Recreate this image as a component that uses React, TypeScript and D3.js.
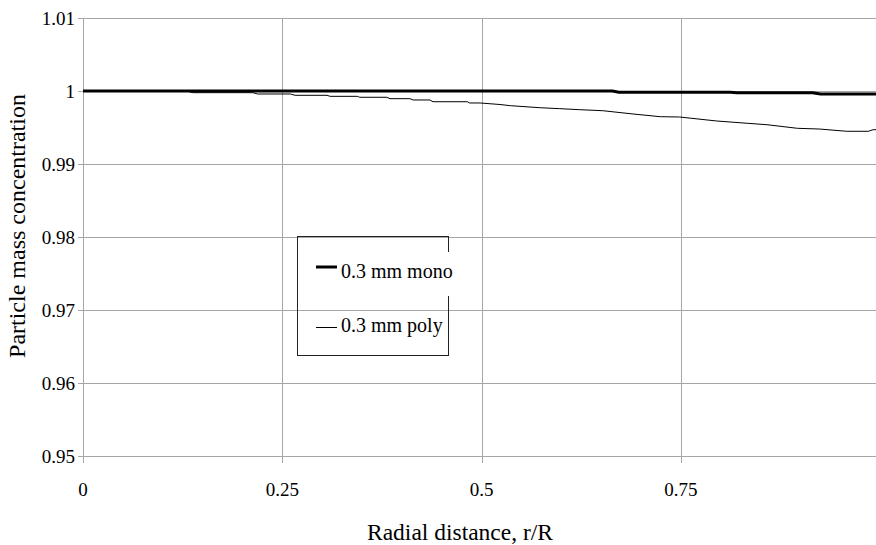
import React from "react";
import * as d3 from "d3";

const xTicks = [0, 0.25, 0.5, 0.75];
const xTickLabels = ["0", "0.25", "0.5", "0.75"];
const yTicks = [0.95, 0.96, 0.97, 0.98, 0.99, 1.0, 1.01];
const yTickLabels = ["0.95", "0.96", "0.97", "0.98", "0.99", "1", "1.01"];

const seriesNames = ["0.3 mm mono", "0.3 mm poly"];

const monoR = [0, 0.664, 0.672, 0.812, 0.82, 0.915, 0.925, 0.996];
const monoV = [1, 1, 0.99984, 0.99984, 0.99976, 0.99976, 0.99958, 0.99958];

const polyR = [0, 0.13, 0.138, 0.213, 0.219, 0.26, 0.266, 0.306, 0.31, 0.344, 0.347, 0.381, 0.385, 0.41, 0.414, 0.435, 0.439, 0.482, 0.485, 0.498, 0.523, 0.536, 0.573, 0.598, 0.623, 0.652, 0.69, 0.724, 0.748, 0.795, 0.833, 0.858, 0.896, 0.924, 0.958, 0.985, 0.991, 0.996];
const polyV = [1, 1, 0.99977, 0.99977, 0.99959, 0.99959, 0.99941, 0.99941, 0.99927, 0.99927, 0.99914, 0.99914, 0.99895, 0.99895, 0.99877, 0.99877, 0.99853, 0.99853, 0.99836, 0.99836, 0.99815, 0.99799, 0.99771, 0.99758, 0.99744, 0.9973, 0.99685, 0.99648, 0.99644, 0.99589, 0.99558, 0.99538, 0.99489, 0.99479, 0.99448, 0.99448, 0.9947, 0.9947];

const W = 876;
const H = 545;
const left = 83;
const top = 18;
const bottom = 456;
const FONT = "'Liberation Serif', 'Times New Roman', serif";

export default function App() {
  const x = d3.scaleLinear().domain([0, 1]).range([left, left + 797.3]);
  const y = d3.scaleLinear().domain([0.95, 1.01]).range([bottom, top]);
  const line = d3
    .line<[number, number]>()
    .x((d) => x(d[0]))
    .y((d) => y(d[1]));
  const mono: [number, number][] = monoR.map((r, i) => [r, monoV[i]]);
  const poly: [number, number][] = polyR.map((r, i) => [r, polyV[i]]);
  const grid = "#a6a6a6";

  return (
    <svg
      width={W}
      height={H}
      style={{ position: "absolute", left: 0, top: 0, background: "#fff" }}
      fontFamily={FONT}
    >
      <rect width={W} height={H} fill="#fff" />
      <defs>
        <clipPath id="plot">
          <rect x={left} y={top - 5} width={W - left} height={bottom - top + 10} />
        </clipPath>
      </defs>
      {yTicks.map((t) => (
        <line key={"gy" + t} x1={left - 5} x2={W} y1={Math.round(y(t)) + 0.5} y2={Math.round(y(t)) + 0.5} stroke={grid} strokeWidth={1} />
      ))}
      {xTicks.map((t) => (
        <line key={"gx" + t} x1={Math.round(x(t)) + 0.5} x2={Math.round(x(t)) + 0.5} y1={top} y2={bottom + 7} stroke={grid} strokeWidth={1} />
      ))}
      {yTicks.map((t, i) => (
        <text key={"ty" + t} x={75} y={y(t) + 7} textAnchor="end" fontSize={19} fill="#000">
          {yTickLabels[i]}
        </text>
      ))}
      {xTicks.map((t, i) => (
        <text key={"tx" + t} x={x(t)} y={496} textAnchor="middle" fontSize={19} fill="#000">
          {xTickLabels[i]}
        </text>
      ))}
      <g clipPath="url(#plot)">
        <path d={line(poly) || ""} fill="none" stroke="#000" strokeWidth={1} />
        <path d={line(mono) || ""} fill="none" stroke="#000" strokeWidth={3} />
      </g>
      <rect x={297.5} y={236.5} width={151} height={119} fill="none" stroke="#222" strokeWidth={1} />
      <rect x={340} y={252} width={116} height={44} fill="#fff" />
      <line x1={316} x2={337} y1={267} y2={267} stroke="#000" strokeWidth={3} />
      <text x={341} y={278} fontSize={20} fill="#000">{seriesNames[0]}</text>
      <line x1={316} x2={337} y1={327.5} y2={327.5} stroke="#000" strokeWidth={1} />
      <text x={341} y={332} fontSize={20} fill="#000">{seriesNames[1]}</text>
      <text x={460} y={540} textAnchor="middle" fontSize={23.5} fill="#000">
        Radial distance, r/R
      </text>
      <text transform={`translate(25, 226) rotate(-90)`} textAnchor="middle" fontSize={24} fill="#000">
        Particle mass concentration
      </text>
    </svg>
  );
}
